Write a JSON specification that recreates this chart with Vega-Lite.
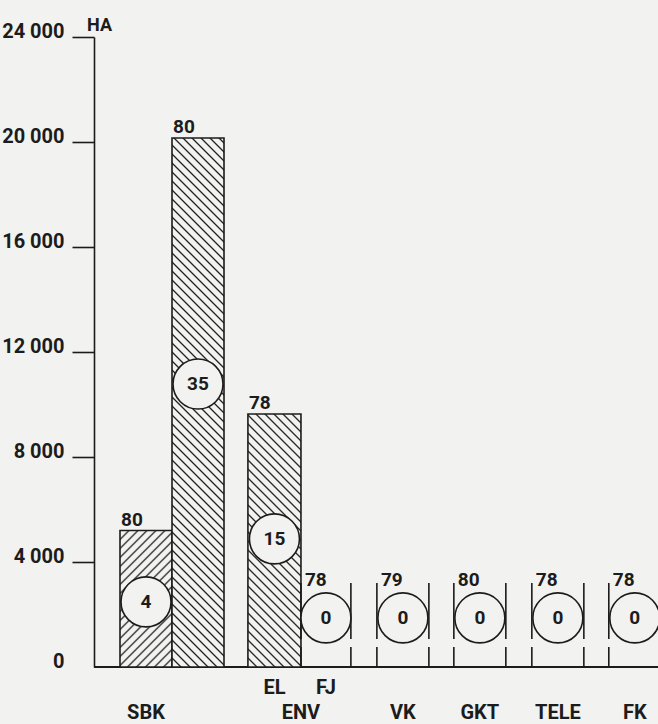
{
  "$schema": "https://vega.github.io/schema/vega-lite/v6.json",
  "width": 564,
  "height": 630,
  "autosize": {"type": "none"},
  "padding": {"left": 94, "top": 37, "right": 0, "bottom": 57},
  "background": "#f2f2f0",
  "config": {
    "view": {"stroke": null},
    "text": {"font": "Roboto", "fontWeight": "bold", "color": "#1c1c1c"}
  },
  "datasets": {
    "bars": [
      {"id": "SBK-a", "kind": "hatched", "x0": 0.5, "x1": 1.5, "ha": 5200, "year": "80", "n": "4", "cy": 2480, "label": "SBK", "level": 2, "group": "SBK"},
      {"id": "SBK-b", "kind": "hatched", "x0": 1.5, "x1": 2.5, "ha": 20150, "year": "80", "n": "35", "cy": 10780, "label": "", "level": 2, "group": "SBK"},
      {"id": "EL", "kind": "hatched", "x0": 2.96, "x1": 3.98, "ha": 9640, "year": "78", "n": "15", "cy": 4880, "label": "EL", "level": 1, "group": "ENV"},
      {"id": "FJ", "kind": "empty", "x0": 3.98, "x1": 4.94, "ha": 0, "year": "78", "n": "0", "cy": 1870, "label": "FJ", "level": 1, "group": "ENV"},
      {"id": "VK", "kind": "empty", "x0": 5.44, "x1": 6.44, "ha": 0, "year": "79", "n": "0", "cy": 1870, "label": "VK", "level": 2, "group": "VK"},
      {"id": "GKT", "kind": "empty", "x0": 6.92, "x1": 7.92, "ha": 0, "year": "80", "n": "0", "cy": 1870, "label": "GKT", "level": 2, "group": "GKT"},
      {"id": "TELE", "kind": "empty", "x0": 8.42, "x1": 9.42, "ha": 0, "year": "78", "n": "0", "cy": 1870, "label": "TELE", "level": 2, "group": "TELE"},
      {"id": "FK", "kind": "empty", "x0": 9.9, "x1": 10.9, "ha": 0, "year": "78", "n": "0", "cy": 1870, "label": "FK", "level": 2, "group": "FK"}
    ]
  },
  "layer": [
    {
      "data": {"name": "bars"},
      "mark": {"type": "rule", "strokeWidth": 1.6, "color": "#1c1c1c"},
      "encoding": {
        "y": {
          "datum": 0,
          "type": "quantitative",
          "scale": {"domain": [0, 24000], "nice": false},
          "axis": {
            "values": [0, 4000, 8000, 12000, 16000, 20000, 24000],
            "labelExpr": "replace(format(datum.value, ','), ',', ' ')",
            "grid": false,
            "domainColor": "#1c1c1c",
            "domainWidth": 1.6,
            "tickColor": "#1c1c1c",
            "tickWidth": 1.6,
            "tickSize": 22,
            "tickOpacity": {"condition": {"test": "datum.value === 0", "value": 0}, "value": 1},
            "labelFont": "Roboto",
            "labelFontWeight": "bold",
            "labelFontSize": 20,
            "labelColor": "#1c1c1c",
            "labelPadding": 8,
            "labelBaseline": "alphabetic",
            "labelOverlap": false,
            "title": "HA",
            "titleAngle": 0,
            "titleX": 5,
            "titleY": -7,
            "titleAlign": "center",
            "titleBaseline": "alphabetic",
            "titleFont": "Roboto",
            "titleFontWeight": "bold",
            "titleFontSize": 18,
            "titleColor": "#1c1c1c"
          }
        }
      }
    },
    {
      "data": {"name": "bars"},
      "transform": [{"filter": "datum.id === 'SBK-a'"}],
      "mark": {
        "type": "bar",
        "stroke": "#1c1c1c",
        "strokeWidth": 1.6,
        "fill": {
          "gradient": "linear", "x1": 0, "y1": 0, "x2": 2.19345, "y2": 5.7578,
          "stops": [
            {"offset":0,"color":"#f2f2f0"},
            {"offset":0.008,"color":"#f2f2f0"},{"offset":0.01,"color":"#222"},{"offset":0.012,"color":"#f2f2f0"},
            {"offset":0.018,"color":"#f2f2f0"},{"offset":0.02,"color":"#222"},{"offset":0.022,"color":"#f2f2f0"},
            {"offset":0.028,"color":"#f2f2f0"},{"offset":0.03,"color":"#222"},{"offset":0.032,"color":"#f2f2f0"},
            {"offset":0.038,"color":"#f2f2f0"},{"offset":0.04,"color":"#222"},{"offset":0.042,"color":"#f2f2f0"},
            {"offset":0.048,"color":"#f2f2f0"},{"offset":0.05,"color":"#222"},{"offset":0.052,"color":"#f2f2f0"},
            {"offset":0.058,"color":"#f2f2f0"},{"offset":0.06,"color":"#222"},{"offset":0.062,"color":"#f2f2f0"},
            {"offset":0.068,"color":"#f2f2f0"},{"offset":0.07,"color":"#222"},{"offset":0.072,"color":"#f2f2f0"},
            {"offset":0.078,"color":"#f2f2f0"},{"offset":0.08,"color":"#222"},{"offset":0.082,"color":"#f2f2f0"},
            {"offset":0.088,"color":"#f2f2f0"},{"offset":0.09,"color":"#222"},{"offset":0.092,"color":"#f2f2f0"},
            {"offset":0.098,"color":"#f2f2f0"},{"offset":0.1,"color":"#222"},{"offset":0.102,"color":"#f2f2f0"},
            {"offset":0.108,"color":"#f2f2f0"},{"offset":0.11,"color":"#222"},{"offset":0.112,"color":"#f2f2f0"},
            {"offset":0.118,"color":"#f2f2f0"},{"offset":0.12,"color":"#222"},{"offset":0.122,"color":"#f2f2f0"},
            {"offset":0.128,"color":"#f2f2f0"},{"offset":0.13,"color":"#222"},{"offset":0.132,"color":"#f2f2f0"},
            {"offset":0.138,"color":"#f2f2f0"},{"offset":0.14,"color":"#222"},{"offset":0.142,"color":"#f2f2f0"},
            {"offset":0.148,"color":"#f2f2f0"},{"offset":0.15,"color":"#222"},{"offset":0.152,"color":"#f2f2f0"},
            {"offset":0.158,"color":"#f2f2f0"},{"offset":0.16,"color":"#222"},{"offset":0.162,"color":"#f2f2f0"},
            {"offset":0.168,"color":"#f2f2f0"},{"offset":0.17,"color":"#222"},{"offset":0.172,"color":"#f2f2f0"},
            {"offset":0.178,"color":"#f2f2f0"},{"offset":0.18,"color":"#222"},{"offset":0.182,"color":"#f2f2f0"},
            {"offset":0.188,"color":"#f2f2f0"},{"offset":0.19,"color":"#222"},{"offset":0.192,"color":"#f2f2f0"},
            {"offset":0.198,"color":"#f2f2f0"},{"offset":0.2,"color":"#222"},{"offset":0.202,"color":"#f2f2f0"},
            {"offset":0.208,"color":"#f2f2f0"},{"offset":0.21,"color":"#222"},{"offset":0.212,"color":"#f2f2f0"}
          ]
        }
      },
      "encoding": {
        "x": {"field": "x0", "type": "quantitative", "scale": {"domain": [0, 10.846], "nice": false, "zero": false}, "axis": null},
        "x2": {"field": "x1"},
        "y": {"field": "ha", "type": "quantitative", "scale": {"domain": [0, 24000], "nice": false}},
        "y2": {"datum": 0}
      }
    },
    {
      "data": {"name": "bars"},
      "transform": [{"filter": "datum.id === 'SBK-b'"}],
      "mark": {
        "type": "bar",
        "stroke": "#1c1c1c",
        "strokeWidth": 1.6,
        "fill": {
          "gradient": "linear", "x1": 0, "y1": 1, "x2": 0.16568, "y2": -0.68524,
          "stops": [
            {"offset":0,"color":"#f2f2f0"},
            {"offset":0.008,"color":"#f2f2f0"},{"offset":0.01,"color":"#222"},{"offset":0.012,"color":"#f2f2f0"},
            {"offset":0.018,"color":"#f2f2f0"},{"offset":0.02,"color":"#222"},{"offset":0.022,"color":"#f2f2f0"},
            {"offset":0.028,"color":"#f2f2f0"},{"offset":0.03,"color":"#222"},{"offset":0.032,"color":"#f2f2f0"},
            {"offset":0.038,"color":"#f2f2f0"},{"offset":0.04,"color":"#222"},{"offset":0.042,"color":"#f2f2f0"},
            {"offset":0.048,"color":"#f2f2f0"},{"offset":0.05,"color":"#222"},{"offset":0.052,"color":"#f2f2f0"},
            {"offset":0.058,"color":"#f2f2f0"},{"offset":0.06,"color":"#222"},{"offset":0.062,"color":"#f2f2f0"},
            {"offset":0.068,"color":"#f2f2f0"},{"offset":0.07,"color":"#222"},{"offset":0.072,"color":"#f2f2f0"},
            {"offset":0.078,"color":"#f2f2f0"},{"offset":0.08,"color":"#222"},{"offset":0.082,"color":"#f2f2f0"},
            {"offset":0.088,"color":"#f2f2f0"},{"offset":0.09,"color":"#222"},{"offset":0.092,"color":"#f2f2f0"},
            {"offset":0.098,"color":"#f2f2f0"},{"offset":0.1,"color":"#222"},{"offset":0.102,"color":"#f2f2f0"},
            {"offset":0.108,"color":"#f2f2f0"},{"offset":0.11,"color":"#222"},{"offset":0.112,"color":"#f2f2f0"},
            {"offset":0.118,"color":"#f2f2f0"},{"offset":0.12,"color":"#222"},{"offset":0.122,"color":"#f2f2f0"},
            {"offset":0.128,"color":"#f2f2f0"},{"offset":0.13,"color":"#222"},{"offset":0.132,"color":"#f2f2f0"},
            {"offset":0.138,"color":"#f2f2f0"},{"offset":0.14,"color":"#222"},{"offset":0.142,"color":"#f2f2f0"},
            {"offset":0.148,"color":"#f2f2f0"},{"offset":0.15,"color":"#222"},{"offset":0.152,"color":"#f2f2f0"},
            {"offset":0.158,"color":"#f2f2f0"},{"offset":0.16,"color":"#222"},{"offset":0.162,"color":"#f2f2f0"},
            {"offset":0.168,"color":"#f2f2f0"},{"offset":0.17,"color":"#222"},{"offset":0.172,"color":"#f2f2f0"},
            {"offset":0.178,"color":"#f2f2f0"},{"offset":0.18,"color":"#222"},{"offset":0.182,"color":"#f2f2f0"},
            {"offset":0.188,"color":"#f2f2f0"},{"offset":0.19,"color":"#222"},{"offset":0.192,"color":"#f2f2f0"},
            {"offset":0.198,"color":"#f2f2f0"},{"offset":0.2,"color":"#222"},{"offset":0.202,"color":"#f2f2f0"},
            {"offset":0.208,"color":"#f2f2f0"},{"offset":0.21,"color":"#222"},{"offset":0.212,"color":"#f2f2f0"},
            {"offset":0.218,"color":"#f2f2f0"},{"offset":0.22,"color":"#222"},{"offset":0.222,"color":"#f2f2f0"},
            {"offset":0.228,"color":"#f2f2f0"},{"offset":0.23,"color":"#222"},{"offset":0.232,"color":"#f2f2f0"},
            {"offset":0.238,"color":"#f2f2f0"},{"offset":0.24,"color":"#222"},{"offset":0.242,"color":"#f2f2f0"},
            {"offset":0.248,"color":"#f2f2f0"},{"offset":0.25,"color":"#222"},{"offset":0.252,"color":"#f2f2f0"},
            {"offset":0.258,"color":"#f2f2f0"},{"offset":0.26,"color":"#222"},{"offset":0.262,"color":"#f2f2f0"},
            {"offset":0.268,"color":"#f2f2f0"},{"offset":0.27,"color":"#222"},{"offset":0.272,"color":"#f2f2f0"},
            {"offset":0.278,"color":"#f2f2f0"},{"offset":0.28,"color":"#222"},{"offset":0.282,"color":"#f2f2f0"},
            {"offset":0.288,"color":"#f2f2f0"},{"offset":0.29,"color":"#222"},{"offset":0.292,"color":"#f2f2f0"},
            {"offset":0.298,"color":"#f2f2f0"},{"offset":0.3,"color":"#222"},{"offset":0.302,"color":"#f2f2f0"},
            {"offset":0.308,"color":"#f2f2f0"},{"offset":0.31,"color":"#222"},{"offset":0.312,"color":"#f2f2f0"},
            {"offset":0.318,"color":"#f2f2f0"},{"offset":0.32,"color":"#222"},{"offset":0.322,"color":"#f2f2f0"},
            {"offset":0.328,"color":"#f2f2f0"},{"offset":0.33,"color":"#222"},{"offset":0.332,"color":"#f2f2f0"},
            {"offset":0.338,"color":"#f2f2f0"},{"offset":0.34,"color":"#222"},{"offset":0.342,"color":"#f2f2f0"},
            {"offset":0.348,"color":"#f2f2f0"},{"offset":0.35,"color":"#222"},{"offset":0.352,"color":"#f2f2f0"},
            {"offset":0.358,"color":"#f2f2f0"},{"offset":0.36,"color":"#222"},{"offset":0.362,"color":"#f2f2f0"},
            {"offset":0.368,"color":"#f2f2f0"},{"offset":0.37,"color":"#222"},{"offset":0.372,"color":"#f2f2f0"},
            {"offset":0.378,"color":"#f2f2f0"},{"offset":0.38,"color":"#222"},{"offset":0.382,"color":"#f2f2f0"},
            {"offset":0.388,"color":"#f2f2f0"},{"offset":0.39,"color":"#222"},{"offset":0.392,"color":"#f2f2f0"},
            {"offset":0.398,"color":"#f2f2f0"},{"offset":0.4,"color":"#222"},{"offset":0.402,"color":"#f2f2f0"},
            {"offset":0.408,"color":"#f2f2f0"},{"offset":0.41,"color":"#222"},{"offset":0.412,"color":"#f2f2f0"},
            {"offset":0.418,"color":"#f2f2f0"},{"offset":0.42,"color":"#222"},{"offset":0.422,"color":"#f2f2f0"},
            {"offset":0.428,"color":"#f2f2f0"},{"offset":0.43,"color":"#222"},{"offset":0.432,"color":"#f2f2f0"},
            {"offset":0.438,"color":"#f2f2f0"},{"offset":0.44,"color":"#222"},{"offset":0.442,"color":"#f2f2f0"},
            {"offset":0.448,"color":"#f2f2f0"},{"offset":0.45,"color":"#222"},{"offset":0.452,"color":"#f2f2f0"},
            {"offset":0.458,"color":"#f2f2f0"},{"offset":0.46,"color":"#222"},{"offset":0.462,"color":"#f2f2f0"},
            {"offset":0.468,"color":"#f2f2f0"},{"offset":0.47,"color":"#222"},{"offset":0.472,"color":"#f2f2f0"},
            {"offset":0.478,"color":"#f2f2f0"},{"offset":0.48,"color":"#222"},{"offset":0.482,"color":"#f2f2f0"},
            {"offset":0.488,"color":"#f2f2f0"},{"offset":0.49,"color":"#222"},{"offset":0.492,"color":"#f2f2f0"},
            {"offset":0.498,"color":"#f2f2f0"},{"offset":0.5,"color":"#222"},{"offset":0.502,"color":"#f2f2f0"},
            {"offset":0.508,"color":"#f2f2f0"},{"offset":0.51,"color":"#222"},{"offset":0.512,"color":"#f2f2f0"},
            {"offset":0.518,"color":"#f2f2f0"},{"offset":0.52,"color":"#222"},{"offset":0.522,"color":"#f2f2f0"},
            {"offset":0.528,"color":"#f2f2f0"},{"offset":0.53,"color":"#222"},{"offset":0.532,"color":"#f2f2f0"},
            {"offset":0.538,"color":"#f2f2f0"},{"offset":0.54,"color":"#222"},{"offset":0.542,"color":"#f2f2f0"},
            {"offset":0.548,"color":"#f2f2f0"},{"offset":0.55,"color":"#222"},{"offset":0.552,"color":"#f2f2f0"},
            {"offset":0.558,"color":"#f2f2f0"},{"offset":0.56,"color":"#222"},{"offset":0.562,"color":"#f2f2f0"},
            {"offset":0.568,"color":"#f2f2f0"},{"offset":0.57,"color":"#222"},{"offset":0.572,"color":"#f2f2f0"},
            {"offset":0.578,"color":"#f2f2f0"},{"offset":0.58,"color":"#222"},{"offset":0.582,"color":"#f2f2f0"},
            {"offset":0.588,"color":"#f2f2f0"},{"offset":0.59,"color":"#222"},{"offset":0.592,"color":"#f2f2f0"},
            {"offset":0.598,"color":"#f2f2f0"},{"offset":0.6,"color":"#222"},{"offset":0.602,"color":"#f2f2f0"},
            {"offset":0.608,"color":"#f2f2f0"},{"offset":0.61,"color":"#222"},{"offset":0.612,"color":"#f2f2f0"},
            {"offset":0.618,"color":"#f2f2f0"},{"offset":0.62,"color":"#222"},{"offset":0.622,"color":"#f2f2f0"},
            {"offset":0.628,"color":"#f2f2f0"},{"offset":0.63,"color":"#222"},{"offset":0.632,"color":"#f2f2f0"},
            {"offset":0.638,"color":"#f2f2f0"},{"offset":0.64,"color":"#222"},{"offset":0.642,"color":"#f2f2f0"},
            {"offset":0.648,"color":"#f2f2f0"},{"offset":0.65,"color":"#222"},{"offset":0.652,"color":"#f2f2f0"}
          ]
        }
      },
      "encoding": {
        "x": {"field": "x0", "type": "quantitative", "scale": {"domain": [0, 10.846], "nice": false, "zero": false}, "axis": null},
        "x2": {"field": "x1"},
        "y": {"field": "ha", "type": "quantitative", "scale": {"domain": [0, 24000], "nice": false}},
        "y2": {"datum": 0}
      }
    },
    {
      "data": {"name": "bars"},
      "transform": [{"filter": "datum.id === 'EL'"}],
      "mark": {
        "type": "bar",
        "stroke": "#1c1c1c",
        "strokeWidth": 1.6,
        "fill": {
          "gradient": "linear", "x1": 0, "y1": 1, "x2": 0.7141, "y2": -2.40694,
          "stops": [
            {"offset":0,"color":"#f2f2f0"},
            {"offset":0.008,"color":"#f2f2f0"},{"offset":0.01,"color":"#222"},{"offset":0.012,"color":"#f2f2f0"},
            {"offset":0.018,"color":"#f2f2f0"},{"offset":0.02,"color":"#222"},{"offset":0.022,"color":"#f2f2f0"},
            {"offset":0.028,"color":"#f2f2f0"},{"offset":0.03,"color":"#222"},{"offset":0.032,"color":"#f2f2f0"},
            {"offset":0.038,"color":"#f2f2f0"},{"offset":0.04,"color":"#222"},{"offset":0.042,"color":"#f2f2f0"},
            {"offset":0.048,"color":"#f2f2f0"},{"offset":0.05,"color":"#222"},{"offset":0.052,"color":"#f2f2f0"},
            {"offset":0.058,"color":"#f2f2f0"},{"offset":0.06,"color":"#222"},{"offset":0.062,"color":"#f2f2f0"},
            {"offset":0.068,"color":"#f2f2f0"},{"offset":0.07,"color":"#222"},{"offset":0.072,"color":"#f2f2f0"},
            {"offset":0.078,"color":"#f2f2f0"},{"offset":0.08,"color":"#222"},{"offset":0.082,"color":"#f2f2f0"},
            {"offset":0.088,"color":"#f2f2f0"},{"offset":0.09,"color":"#222"},{"offset":0.092,"color":"#f2f2f0"},
            {"offset":0.098,"color":"#f2f2f0"},{"offset":0.1,"color":"#222"},{"offset":0.102,"color":"#f2f2f0"},
            {"offset":0.108,"color":"#f2f2f0"},{"offset":0.11,"color":"#222"},{"offset":0.112,"color":"#f2f2f0"},
            {"offset":0.118,"color":"#f2f2f0"},{"offset":0.12,"color":"#222"},{"offset":0.122,"color":"#f2f2f0"},
            {"offset":0.128,"color":"#f2f2f0"},{"offset":0.13,"color":"#222"},{"offset":0.132,"color":"#f2f2f0"},
            {"offset":0.138,"color":"#f2f2f0"},{"offset":0.14,"color":"#222"},{"offset":0.142,"color":"#f2f2f0"},
            {"offset":0.148,"color":"#f2f2f0"},{"offset":0.15,"color":"#222"},{"offset":0.152,"color":"#f2f2f0"},
            {"offset":0.158,"color":"#f2f2f0"},{"offset":0.16,"color":"#222"},{"offset":0.162,"color":"#f2f2f0"},
            {"offset":0.168,"color":"#f2f2f0"},{"offset":0.17,"color":"#222"},{"offset":0.172,"color":"#f2f2f0"},
            {"offset":0.178,"color":"#f2f2f0"},{"offset":0.18,"color":"#222"},{"offset":0.182,"color":"#f2f2f0"},
            {"offset":0.188,"color":"#f2f2f0"},{"offset":0.19,"color":"#222"},{"offset":0.192,"color":"#f2f2f0"},
            {"offset":0.198,"color":"#f2f2f0"},{"offset":0.2,"color":"#222"},{"offset":0.202,"color":"#f2f2f0"},
            {"offset":0.208,"color":"#f2f2f0"},{"offset":0.21,"color":"#222"},{"offset":0.212,"color":"#f2f2f0"},
            {"offset":0.218,"color":"#f2f2f0"},{"offset":0.22,"color":"#222"},{"offset":0.222,"color":"#f2f2f0"},
            {"offset":0.228,"color":"#f2f2f0"},{"offset":0.23,"color":"#222"},{"offset":0.232,"color":"#f2f2f0"},
            {"offset":0.238,"color":"#f2f2f0"},{"offset":0.24,"color":"#222"},{"offset":0.242,"color":"#f2f2f0"},
            {"offset":0.248,"color":"#f2f2f0"},{"offset":0.25,"color":"#222"},{"offset":0.252,"color":"#f2f2f0"},
            {"offset":0.258,"color":"#f2f2f0"},{"offset":0.26,"color":"#222"},{"offset":0.262,"color":"#f2f2f0"},
            {"offset":0.268,"color":"#f2f2f0"},{"offset":0.27,"color":"#222"},{"offset":0.272,"color":"#f2f2f0"},
            {"offset":0.278,"color":"#f2f2f0"},{"offset":0.28,"color":"#222"},{"offset":0.282,"color":"#f2f2f0"},
            {"offset":0.288,"color":"#f2f2f0"},{"offset":0.29,"color":"#222"},{"offset":0.292,"color":"#f2f2f0"},
            {"offset":0.298,"color":"#f2f2f0"},{"offset":0.3,"color":"#222"},{"offset":0.302,"color":"#f2f2f0"},
            {"offset":0.308,"color":"#f2f2f0"},{"offset":0.31,"color":"#222"},{"offset":0.312,"color":"#f2f2f0"},
            {"offset":0.318,"color":"#f2f2f0"},{"offset":0.32,"color":"#222"},{"offset":0.322,"color":"#f2f2f0"},
            {"offset":0.328,"color":"#f2f2f0"},{"offset":0.33,"color":"#222"},{"offset":0.332,"color":"#f2f2f0"},
            {"offset":0.338,"color":"#f2f2f0"},{"offset":0.34,"color":"#222"},{"offset":0.342,"color":"#f2f2f0"},
            {"offset":0.348,"color":"#f2f2f0"},{"offset":0.35,"color":"#222"},{"offset":0.352,"color":"#f2f2f0"}
          ]
        }
      },
      "encoding": {
        "x": {"field": "x0", "type": "quantitative", "scale": {"domain": [0, 10.846], "nice": false, "zero": false}, "axis": null},
        "x2": {"field": "x1"},
        "y": {"field": "ha", "type": "quantitative", "scale": {"domain": [0, 24000], "nice": false}},
        "y2": {"datum": 0}
      }
    },
    {
      "data": {"name": "bars"},
      "transform": [{"filter": "datum.kind === 'empty'"}],
      "mark": {"type": "rule", "stroke": "#1c1c1c", "strokeWidth": 1.6, "strokeDash": [20, 8, 56, 300]},
      "encoding": {
        "x": {"field": "x0", "type": "quantitative", "scale": {"domain": [0, 10.846], "nice": false, "zero": false}, "axis": null},
        "y": {"datum": 0, "type": "quantitative", "scale": {"domain": [0, 24000], "nice": false}},
        "y2": {"datum": 3200}
      }
    },
    {
      "data": {"name": "bars"},
      "transform": [{"filter": "datum.kind === 'empty'"}],
      "mark": {"type": "rule", "stroke": "#1c1c1c", "strokeWidth": 1.6, "strokeDash": [20, 8, 56, 300]},
      "encoding": {
        "x": {"field": "x1", "type": "quantitative", "scale": {"domain": [0, 10.846], "nice": false, "zero": false}, "axis": null},
        "y": {"datum": 0, "type": "quantitative", "scale": {"domain": [0, 24000], "nice": false}},
        "y2": {"datum": 3200}
      }
    },
    {
      "data": {"name": "bars"},
      "transform": [{"calculate": "(datum.x0 + datum.x1) / 2", "as": "xm"}],
      "mark": {"type": "point", "shape": "circle", "size": 2500, "filled": true, "fill": "#f2f2f0", "stroke": "#1c1c1c", "strokeWidth": 1.6, "opacity": 1, "fillOpacity": 1, "strokeOpacity": 1},
      "encoding": {
        "x": {"field": "xm", "type": "quantitative", "scale": {"domain": [0, 10.846], "nice": false, "zero": false}, "axis": null},
        "y": {"field": "cy", "type": "quantitative", "scale": {"domain": [0, 24000], "nice": false}}
      }
    },
    {
      "data": {"name": "bars"},
      "transform": [{"calculate": "(datum.x0 + datum.x1) / 2", "as": "xm"}],
      "mark": {"type": "text", "fontSize": 19, "baseline": "middle", "align": "center"},
      "encoding": {
        "x": {"field": "xm", "type": "quantitative", "scale": {"domain": [0, 10.846], "nice": false, "zero": false}, "axis": null},
        "y": {"field": "cy", "type": "quantitative", "scale": {"domain": [0, 24000], "nice": false}},
        "text": {"field": "n"}
      }
    },
    {
      "data": {"name": "bars"},
      "transform": [{"filter": "datum.kind === 'hatched'"}],
      "mark": {"type": "text", "fontSize": 19, "baseline": "alphabetic", "align": "left", "dx": 1, "dy": -5},
      "encoding": {
        "x": {"field": "x0", "type": "quantitative", "scale": {"domain": [0, 10.846], "nice": false, "zero": false}, "axis": null},
        "y": {"field": "ha", "type": "quantitative", "scale": {"domain": [0, 24000], "nice": false}},
        "text": {"field": "year"}
      }
    },
    {
      "data": {"name": "bars"},
      "transform": [{"filter": "datum.kind === 'empty'"}],
      "mark": {"type": "text", "fontSize": 19, "baseline": "alphabetic", "align": "left", "dx": 4, "dy": 3},
      "encoding": {
        "x": {"field": "x0", "type": "quantitative", "scale": {"domain": [0, 10.846], "nice": false, "zero": false}, "axis": null},
        "y": {"datum": 3200, "type": "quantitative", "scale": {"domain": [0, 24000], "nice": false}},
        "text": {"field": "year"}
      }
    },
    {
      "data": {"name": "bars"},
      "transform": [{"filter": "datum.label !== '' && datum.level === 1"}, {"calculate": "(datum.x0 + datum.x1) / 2", "as": "xm"}],
      "mark": {"type": "text", "fontSize": 20, "baseline": "middle", "align": "center", "dy": 21},
      "encoding": {
        "x": {"field": "xm", "type": "quantitative", "scale": {"domain": [0, 10.846], "nice": false, "zero": false}, "axis": null},
        "y": {"datum": 0, "type": "quantitative", "scale": {"domain": [0, 24000], "nice": false}},
        "text": {"field": "label"}
      }
    },
    {
      "data": {"name": "bars"},
      "transform": [{"filter": "datum.label !== '' && datum.level === 2"}, {"calculate": "(datum.x0 + datum.x1) / 2", "as": "xm"}],
      "mark": {"type": "text", "fontSize": 20, "baseline": "middle", "align": "center", "dy": 46},
      "encoding": {
        "x": {"field": "xm", "type": "quantitative", "scale": {"domain": [0, 10.846], "nice": false, "zero": false}, "axis": null},
        "y": {"datum": 0, "type": "quantitative", "scale": {"domain": [0, 24000], "nice": false}},
        "text": {"field": "label"}
      }
    },
    {
      "data": {"name": "bars"},
      "transform": [{"filter": "datum.id === 'EL'"}],
      "mark": {"type": "text", "fontSize": 20, "baseline": "middle", "align": "center", "dy": 46},
      "encoding": {
        "x": {"field": "x1", "type": "quantitative", "scale": {"domain": [0, 10.846], "nice": false, "zero": false}, "axis": null},
        "y": {"datum": 0, "type": "quantitative", "scale": {"domain": [0, 24000], "nice": false}},
        "text": {"field": "group"}
      }
    }
  ]
}
